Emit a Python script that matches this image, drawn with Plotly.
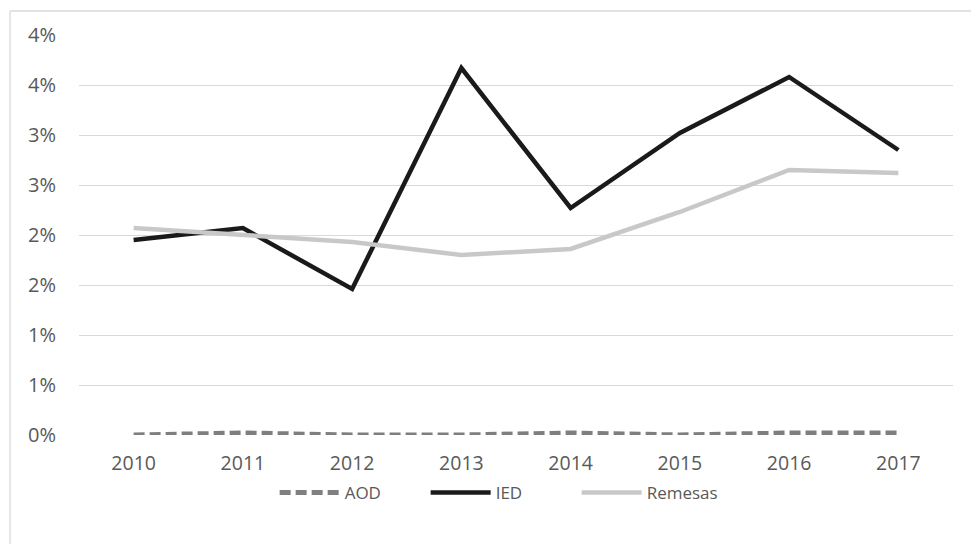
import plotly.graph_objects as go

# Years on the category axis
years = ["2010", "2011", "2012", "2013", "2014", "2015", "2016", "2017"]

# Flows as a share of GDP (%)
aod = [0.00, 0.02, 0.00, 0.00, 0.02, 0.00, 0.02, 0.02]
ied = [1.95, 2.07, 1.46, 3.67, 2.27, 3.02, 3.58, 2.85]
remesas = [2.07, 2.00, 1.93, 1.80, 1.86, 2.23, 2.65, 2.62]

# Gridlines every half point, labels rounded to whole percent
tick_vals = [0, 0.5, 1, 1.5, 2, 2.5, 3, 3.5, 4]
tick_text = ["0%", "1%", "1%", "2%", "2%", "3%", "3%", "4%", "4%"]

font_family = "Open Sans, Liberation Sans, sans-serif"
text_color = "#595959"

fig = go.Figure()
fig.add_trace(go.Scatter(
    x=years, y=aod, name="AOD", mode="lines",
    line=dict(color="#7f7f7f", width=5, dash="11px,5px"),
))
fig.add_trace(go.Scatter(
    x=years, y=ied, name="IED", mode="lines",
    line=dict(color="#1a1a1a", width=4.5),
))
fig.add_trace(go.Scatter(
    x=years, y=remesas, name="Remesas", mode="lines",
    line=dict(color="#c8c8c8", width=4.5),
))

fig.update_layout(
    width=971, height=544,
    margin=dict(l=79, r=18, t=35, b=109),
    paper_bgcolor="white", plot_bgcolor="white",
    font=dict(family=font_family, size=19, color=text_color),
    showlegend=True,
    legend=dict(
        orientation="h", x=0.483, xanchor="center", y=-0.1, yanchor="top",
        font=dict(size=17, color=text_color),
        entrywidth=76, entrywidthmode="pixels",
        itemwidth=60, tracegroupgap=0,
    ),
    xaxis=dict(
        type="category", range=[-0.5, 7.5],
        showgrid=False, zeroline=False, showline=False,
        ticks="", tickfont=dict(size=19.5, color=text_color),
        ticklabelstandoff=14,
    ),
    yaxis=dict(
        range=[0, 4], tickvals=tick_vals, ticktext=tick_text,
        showgrid=True, gridcolor="#d9d9d9", gridwidth=1.3,
        zeroline=False, showline=False, ticks="",
        tickfont=dict(size=20, color=text_color), ticklabelstandoff=22,
    ),
    shapes=[
        # outer chart frame (left and top edges)
        dict(type="line", xref="paper", yref="paper",
             x0=-0.0789, x1=-0.0789, y0=1.06, y1=-0.3,
             line=dict(color="#d9d9d9", width=1.3)),
        dict(type="line", xref="paper", yref="paper",
             x0=-0.0789, x1=1.03, y0=1.06, y1=1.06,
             line=dict(color="#d9d9d9", width=1.3)),
    ],
)

fig.write_html("out.html")
